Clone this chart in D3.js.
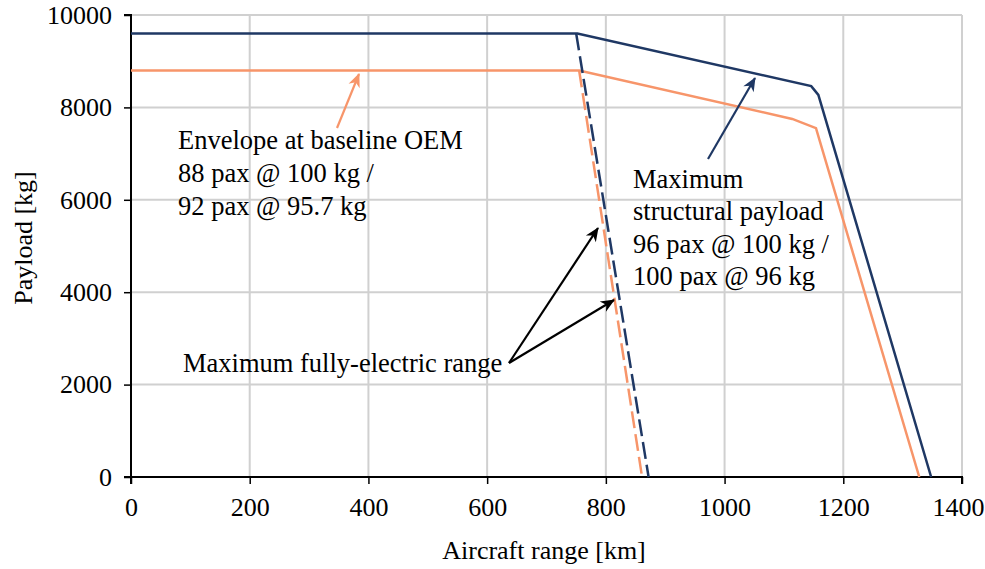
<!DOCTYPE html>
<html>
<head>
<meta charset="utf-8">
<script src="https://cdn.jsdelivr.net/npm/d3@7"></script>
<style>
  body { margin: 0; background: #fff; }
  text { font-family: "Liberation Serif", "Times New Roman", serif; fill: #000; }
</style>
</head>
<body>
<div id="chart"></div>
<script>
// Data
var structRange = [0, 752, 1146, 1158, 1348];
var structPayload = [9600, 9600, 8460, 8270, 0];
var oemRange = [0, 755, 1114, 1154, 1328];
var oemPayload = [8800, 8800, 7750, 7550, 0];
var elecStructRange = [750, 872];
var elecStructPayload = [9600, 0];
var elecOemRange = [755, 861];
var elecOemPayload = [8800, 0];
var xTicks = [0, 200, 400, 600, 800, 1000, 1200, 1400];
var yTicks = [0, 2000, 4000, 6000, 8000, 10000];

var navy = '#1f3864', orange = '#f7956a';

var margin = {top: 15, right: 23, bottom: 92, left: 131},
    width = 962 - margin.left,
    height = 569 - margin.top - margin.bottom;

var x = d3.scaleLinear().domain([0, 1400]).range([0, width]);
var y = d3.scaleLinear().domain([0, 10000]).range([height, 0]);

var svg = d3.select('#chart').append('svg')
    .attr('width', 985).attr('height', 569);

var defs = svg.append('defs');
function marker(id, color) {
  defs.append('marker')
      .attr('id', id)
      .attr('viewBox', '-14 -7 16 14')
      .attr('refX', 0).attr('refY', 0)
      .attr('markerWidth', 16).attr('markerHeight', 14)
      .attr('markerUnits', 'userSpaceOnUse')
      .attr('orient', 'auto')
      .append('path')
      .attr('d', 'M1,0 L-13,-6 L-9,0 L-13,6 Z')
      .attr('fill', color);
}
marker('arrOrange', orange);
marker('arrNavy', navy);
marker('arrBlack', '#000');

var g = svg.append('g')
    .attr('transform', 'translate(' + margin.left + ',' + margin.top + ')');

// grid
g.selectAll('.vgrid').data(xTicks.slice(1)).enter().append('line')
    .attr('x1', function(d) { return x(d); }).attr('x2', function(d) { return x(d); })
    .attr('y1', 0).attr('y2', height)
    .attr('stroke', '#d0d0d0').attr('stroke-width', 2);
g.selectAll('.hgrid').data(yTicks.slice(1)).enter().append('line')
    .attr('x1', 0).attr('x2', width)
    .attr('y1', function(d) { return y(d); }).attr('y2', function(d) { return y(d); })
    .attr('stroke', '#d0d0d0').attr('stroke-width', 2);

// axes
var xAxis = g.append('g')
    .attr('transform', 'translate(0,' + height + ')')
    .call(d3.axisBottom(x).tickValues(xTicks).tickSize(7).tickPadding(14).tickFormat(d3.format('d')));
var yAxis = g.append('g')
    .call(d3.axisLeft(y).tickValues(yTicks).tickSize(7).tickPadding(12).tickFormat(d3.format('d')));
[xAxis, yAxis].forEach(function(a) {
  a.select('.domain').attr('stroke', '#000').attr('stroke-width', 2);
  a.selectAll('.tick line').attr('stroke', '#000').attr('stroke-width', 1.5);
  a.selectAll('.tick text').style('font-family', '"Liberation Serif", serif')
      .style('font-size', '26px').attr('fill', '#000');
});
xAxis.select('.domain').attr('d', 'M0,7V0H' + width + 'V7');
yAxis.select('.domain').attr('d', 'M-7,0H0V' + height + 'H-7');
// last label sits at the page edge, nudge it in a bit
xAxis.selectAll('.tick text').filter(function(d) { return d === 1400; })
    .attr('dx', -4);

// lines
var line = d3.line()
    .x(function(d) { return x(d[0]); })
    .y(function(d) { return y(d[1]); });

function series(r, p, color, dash) {
  g.append('path')
      .datum(d3.zip(r, p))
      .attr('fill', 'none')
      .attr('stroke', color)
      .attr('stroke-width', 2.5)
      .attr('stroke-dasharray', dash || null)
      .attr('d', line);
}
series(oemRange, oemPayload, orange);
series(structRange, structPayload, navy);
series(elecOemRange, elecOemPayload, orange, '17,6');
series(elecStructRange, elecStructPayload, navy, '17,6');

// axis titles
svg.append('text')
    .attr('x', 544).attr('y', 559)
    .attr('text-anchor', 'middle').style('font-size', '26px')
    .text('Aircraft range [km]');
svg.append('text')
    .attr('transform', 'translate(32,238) rotate(-90)')
    .attr('text-anchor', 'middle').style('font-size', '26px')
    .text('Payload [kg]');

// annotations
function label(lines, x0, y0, lh) {
  var t = svg.append('text').style('font-size', '26.5px');
  lines.forEach(function(s, i) {
    t.append('tspan').attr('x', x0).attr('y', y0 + i * lh).text(s);
  });
}
label(['Envelope at baseline OEM', '88 pax @ 100 kg /', '92 pax @ 95.7 kg'], 178, 149, 33);
label(['Maximum', 'structural payload', '96 pax @ 100 kg /', '100 pax @ 96 kg'], 633, 188, 32.3);
label(['Maximum fully-electric range'], 183, 372, 0);

function arrow(x1, y1, x2, y2, color, id) {
  svg.append('line')
      .attr('x1', x1).attr('y1', y1).attr('x2', x2).attr('y2', y2)
      .attr('stroke', color).attr('stroke-width', 2.2)
      .attr('marker-end', 'url(#' + id + ')');
}
arrow(337, 128, 359, 74, orange, 'arrOrange');
arrow(708, 159, 755, 78, navy, 'arrNavy');
arrow(509, 363, 598, 228, '#000', 'arrBlack');
arrow(509, 363, 614, 300, '#000', 'arrBlack');
</script>
</body>
</html>
